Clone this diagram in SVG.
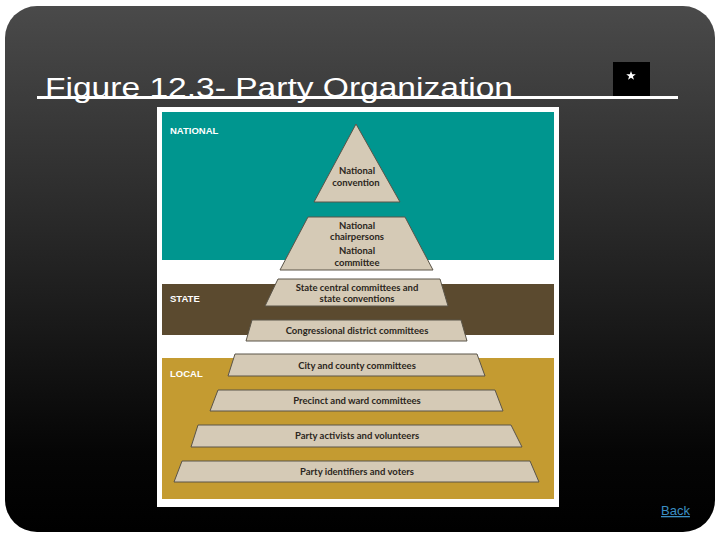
<svg xmlns="http://www.w3.org/2000/svg" width="720" height="540" viewBox="0 0 720 540">
<defs>
<linearGradient id="bg" x1="0" y1="0" x2="0" y2="1">
<stop offset="0" stop-color="#4a4a4a"/>
<stop offset="0.45" stop-color="#262626"/>
<stop offset="0.85" stop-color="#050505"/>
<stop offset="1" stop-color="#000"/>
</linearGradient>
<style>
.tier{fill:#d5cab6;stroke:#5a5448;stroke-width:1}
.lbl{font-family:"Lato","Liberation Sans",sans-serif;font-size:9.5px;fill:#2b2620;text-anchor:middle;font-weight:bold}
.band{font-family:"Liberation Sans",Arial,sans-serif;font-size:9.5px;font-weight:bold;fill:#ffffff}
</style>
</defs>
<rect width="720" height="540" fill="#ffffff"/>
<rect x="5" y="6" width="710" height="526" rx="32" ry="32" fill="url(#bg)"/>
<text x="45" y="97" font-family="'Liberation Sans',Arial,sans-serif" font-size="27" fill="#ffffff" textLength="468" lengthAdjust="spacingAndGlyphs">Figure 12.3- Party Organization</text>
<rect x="613" y="62" width="37" height="36" fill="#000000"/>
<polygon points="631,71 632.2,74.3 635.8,74.3 632.9,76.4 634,79.8 631,77.8 628,79.8 629.1,76.4 626.2,74.3 629.8,74.3" fill="#ffffff"/>
<rect x="37" y="96" width="641" height="3" fill="#ffffff"/>
<g id="picture">
<rect x="157" y="107" width="402" height="400" fill="#ffffff"/>
<rect x="162" y="112" width="392" height="148" fill="#00968f"/>
<rect x="162" y="284" width="392" height="51" fill="#5b4a2f"/>
<rect x="162" y="358" width="392" height="141" fill="#c49b31"/>
<text class="band" x="170" y="134">NATIONAL</text>
<text class="band" x="170" y="302">STATE</text>
<text class="band" x="170" y="377">LOCAL</text>
</g>
<g id="tier-convention">
<polygon class="tier" points="356,124 400,202 314,202"/>
<text class="lbl" x="357" y="174">National</text>
<text class="lbl" x="356" y="186">convention</text>
</g>
<g id="tier-national">
<polygon class="tier" points="308,217 405,217 433,270 280,270"/>
<text class="lbl" x="357" y="229">National</text>
<text class="lbl" x="357" y="240">chairpersons</text>
<text class="lbl" x="357" y="254">National</text>
<text class="lbl" x="357" y="266">committee</text>
</g>
<g id="tier-state">
<polygon class="tier" points="278,279 440,279 448,306 265,306"/>
<text class="lbl" x="357" y="291">State central committees and</text>
<text class="lbl" x="357" y="302">state conventions</text>
</g>
<g id="tier-congressional">
<polygon class="tier" points="252,320 461,320 467,341 246,341"/>
<text class="lbl" x="357" y="334">Congressional district committees</text>
</g>
<g id="tier-city">
<polygon class="tier" points="235,354 477,354 485,376 228,376"/>
<text class="lbl" x="357" y="369">City and county committees</text>
</g>
<g id="tier-precinct">
<polygon class="tier" points="218,390 495,390 503,411 210,411"/>
<text class="lbl" x="357" y="404">Precinct and ward committees</text>
</g>
<g id="tier-activists">
<polygon class="tier" points="198,425 511,425 522,447 191,447"/>
<text class="lbl" x="357" y="439">Party activists and volunteers</text>
</g>
<g id="tier-identifiers">
<polygon class="tier" points="182,461 530,461 539,482 174,482"/>
<text class="lbl" x="357" y="475">Party identifiers and voters</text>
</g>
<g id="connectors"></g>
<text x="661" y="515" font-family="'Liberation Sans',Arial,sans-serif" font-size="13" fill="#3b8fc4" text-decoration="underline">Back</text>
</svg>
